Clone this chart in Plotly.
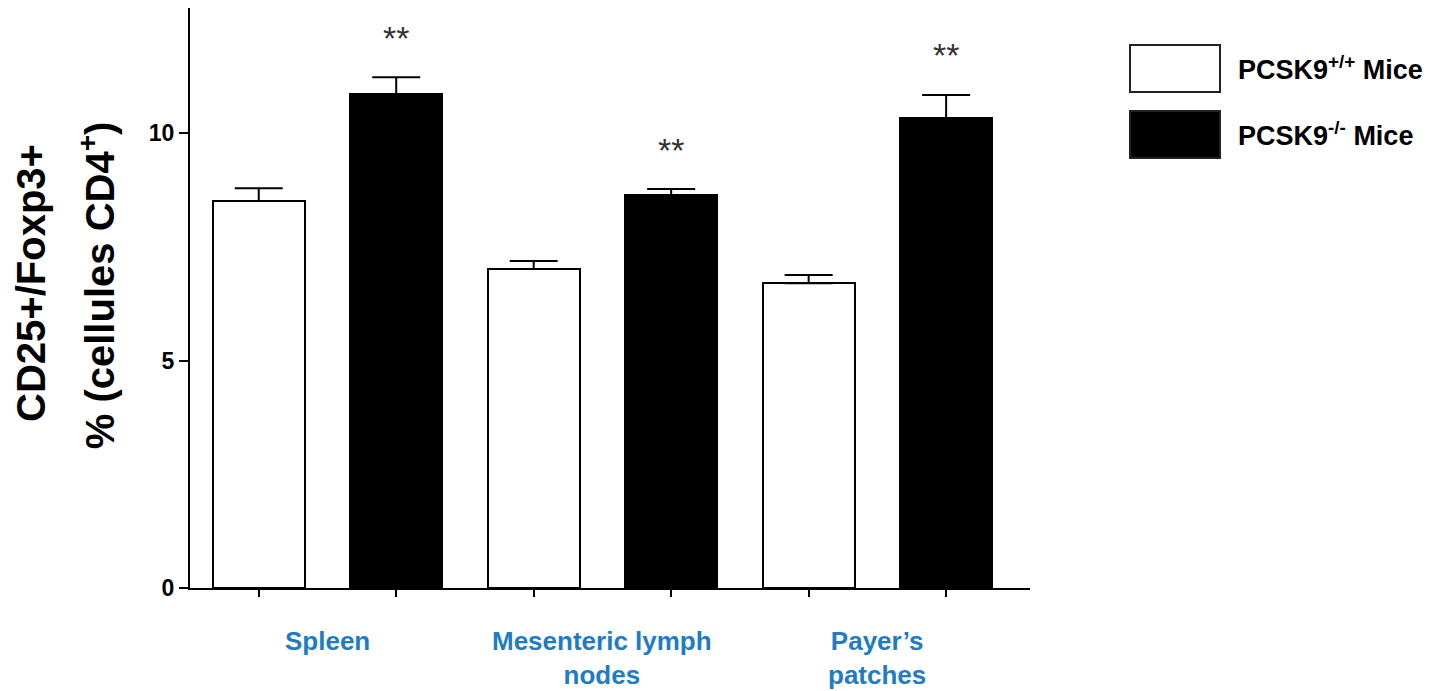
import plotly.graph_objects as go

categories = ["Spleen", "Mesenteric lymph<br>nodes", "Payer\u2019s<br>patches"]
series_names = ["PCSK9<sup>+/+</sup> Mice", "PCSK9<sup>-/-</sup> Mice"]
wt_values = [8.51, 7.01, 6.70]
wt_err = [0.28, 0.18, 0.18]
ko_values = [10.86, 8.64, 10.33]
ko_err = [0.37, 0.13, 0.51]
significance = ["**", "**", "**"]
star_y = [12.09, 9.63, 11.71]
ytick_vals = [0, 5, 10]
ytitle_lines = ["CD25+/Foxp3+", "% (cellules CD4<sup>+</sup>)"]

FONT = "Liberation Sans"
wt_x = [2 * i for i in range(len(categories))]
ko_x = [2 * i + 1 for i in range(len(categories))]

fig = go.Figure()
fig.add_trace(go.Bar(
    x=wt_x, y=wt_values, width=0.67, name=series_names[0],
    marker=dict(color="white", line=dict(color="black", width=2)),
    error_y=dict(type="data", symmetric=False, array=wt_err, arrayminus=[0] * 3,
                 color="black", thickness=2, width=24),
    showlegend=False,
))
fig.add_trace(go.Bar(
    x=ko_x, y=ko_values, width=0.67, name=series_names[1],
    marker=dict(color="black", line=dict(color="black", width=2)),
    error_y=dict(type="data", symmetric=False, array=ko_err, arrayminus=[0] * 3,
                 color="black", thickness=2, width=24),
    showlegend=False,
))

# significance stars
for x, y, s in zip(ko_x, star_y, significance):
    fig.add_annotation(x=x, y=y, text=s, showarrow=False, xref="x", yref="y",
                       font=dict(size=34, color="#333333", family=FONT))

# category labels
for i, c in enumerate(categories):
    fig.add_annotation(x=(wt_x[i] + ko_x[i]) / 2, y=0, xref="x", yref="y",
                       yshift=-36, yanchor="top", text="<b>" + c + "</b>",
                       showarrow=False, align="center",
                       font=dict(size=26, color="#1f7cc4", family=FONT))

# y-axis title (two lines)
for line, xs, yp in zip(ytitle_lines, [-159, -93], [0.526, 0.522]):
    fig.add_annotation(xref="paper", yref="paper", x=0, y=yp, xshift=xs,
                       xanchor="center", yanchor="middle", textangle=-90,
                       text="<b>" + line + "</b>", showarrow=False,
                       font=dict(size=40, color="black", family=FONT))

# legend (drawn manually)
PW, PH = 840, 580
legend_items = [("white", series_names[0]), ("black", series_names[1])]
for k, (col, name) in enumerate(legend_items):
    top = 1 - (45 - 8) / PH - k * (66 / PH)
    bot = top - 47 / PH
    fig.add_shape(type="rect", xref="paper", yref="paper",
                  x0=(1130 - 190) / PW, x1=(1220 - 190) / PW, y0=bot, y1=top,
                  fillcolor=col, line=dict(color="#222222", width=2))
    fig.add_annotation(xref="paper", yref="paper", x=(1236 - 190) / PW,
                       y=(top + bot) / 2, xanchor="left", yanchor="middle",
                       text="<b>" + name + "</b>", showarrow=False,
                       font=dict(size=27, color="black", family=FONT))

fig.update_layout(
    width=1433, height=683,
    margin=dict(l=182, r=411, t=0, b=103),
    paper_bgcolor="white", plot_bgcolor="white",
    bargap=0,
    font=dict(family=FONT, color="black"),
)
fig.update_xaxes(
    range=[-0.5, 5.61], tickvals=wt_x + ko_x, showticklabels=False,
    ticks="outside", ticklen=7, tickwidth=1.5, tickcolor="black",
    showline=True, linecolor="black", linewidth=2, showgrid=False, zeroline=False,
)
fig.update_yaxes(
    range=[0, 12.75], tickvals=ytick_vals, ticktext=["<b>%d</b>" % v for v in ytick_vals],
    ticks="outside", ticklen=9, tickwidth=2, tickcolor="black",
    tickfont=dict(size=23, family=FONT, color="black"),
    showline=True, linecolor="black", linewidth=2, showgrid=False, zeroline=False,
)

fig.write_html("out.html")
